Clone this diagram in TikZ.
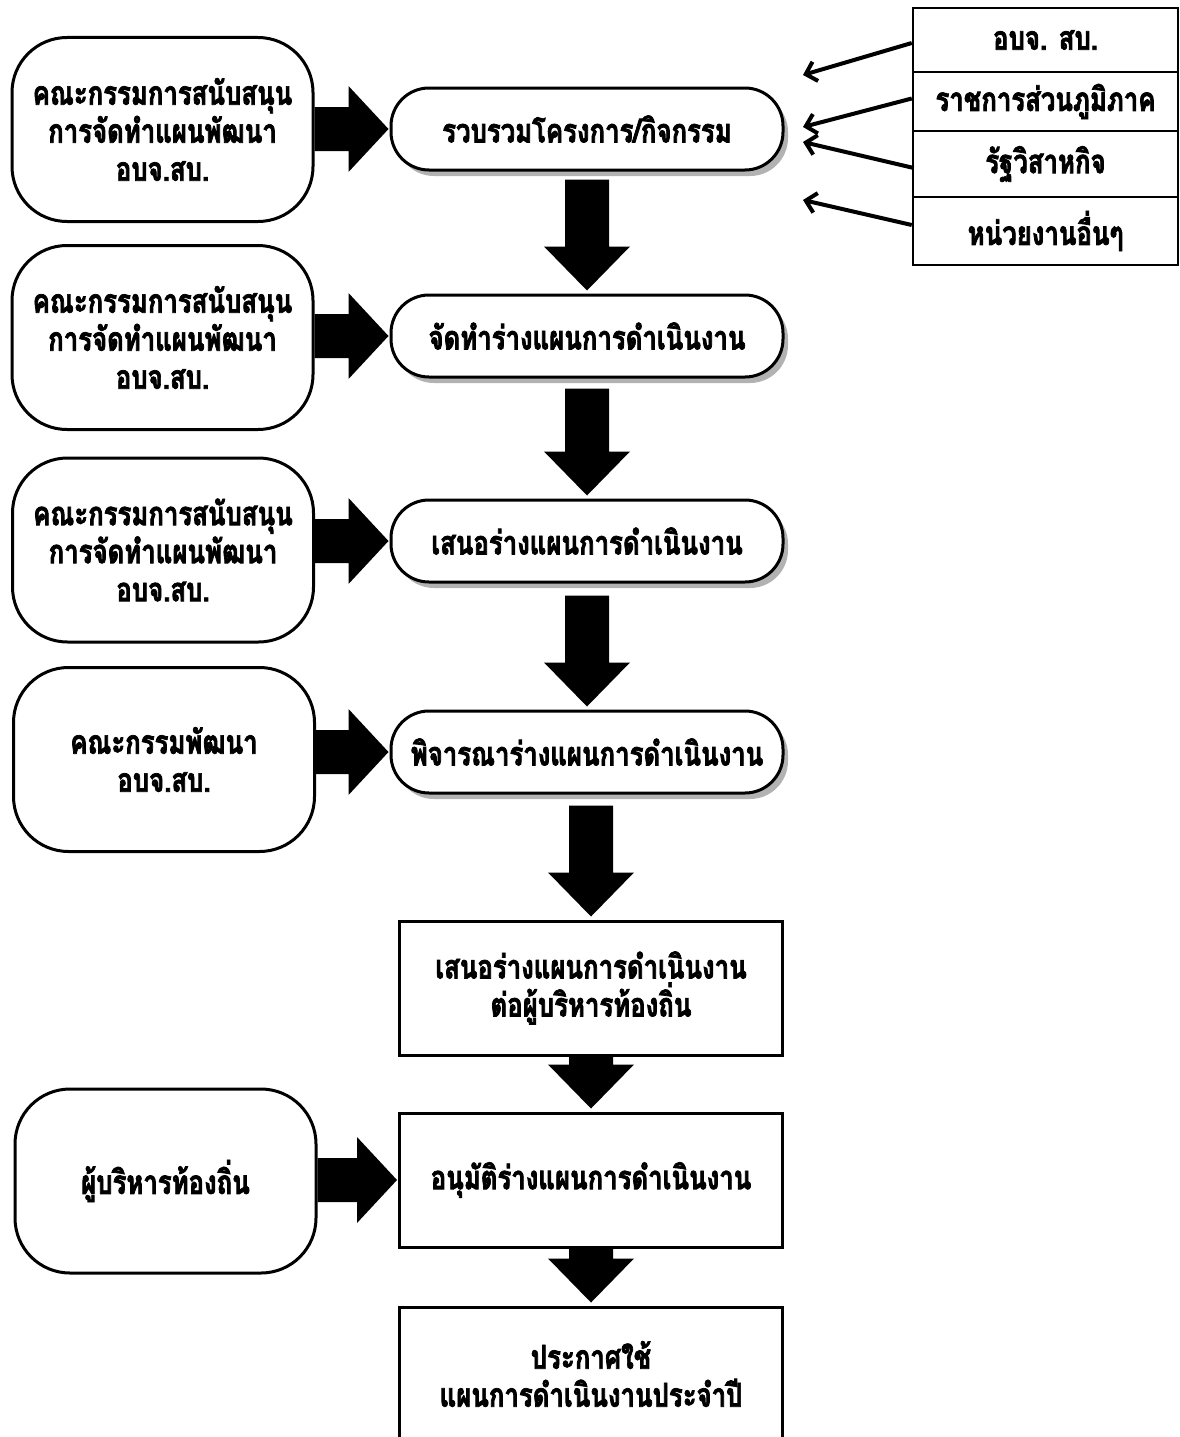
\documentclass[tikz,border=0pt]{standalone}
\usepackage{fontspec}
\setmainfont{Loma}[Script=Thai, FakeStretch=0.78, BoldFeatures={FakeStretch=0.78, FakeBold=2.2}]
\usetikzlibrary{calc,shadows,arrows.meta}
% block arrow pointing down from node #1 to node #2, #3 = gap below #1
\newcommand\blkdown[3]{%
  \fill ($(#1.south -| #2.north)+(-22,#3)$) -- ($(#2.north)+(-22,-47)$) -- ($(#2.north)+(-43,-47)$) -- ($(#2.north)+(0,-3)$) -- ($(#2.north)+(43,-47)$) -- ($(#2.north)+(22,-47)$) -- ($(#1.south -| #2.north)+(22,#3)$) -- cycle;}
% block arrow pointing right from node #1 to node #2
\newcommand\blkright[2]{%
  \fill ($(#1.east |- #2.west)+(0,-22)$) -- ($(#2.west)+(-41,-22)$) -- ($(#2.west)+(-41,-43)$) -- ($(#2.west)+(-1,0)$) -- ($(#2.west)+(-41,43)$) -- ($(#2.west)+(-41,22)$) -- ($(#1.east |- #2.west)+(0,22)$) -- cycle;}
\begin{document}
\begin{tikzpicture}[x=1pt,y=-1pt,
  every node/.style={font=\bfseries\fontsize{33}{38}\selectfont, align=center, inner sep=0pt},
  leftbox/.style={draw, line width=3pt, fill=white, rounded corners=55pt, minimum width=301pt, minimum height=184pt},
  pillbox/.style={draw, line width=3pt, fill=white, rounded corners=38pt, minimum width=392pt, minimum height=82pt,
    drop shadow={shadow xshift=5pt, shadow yshift=-6pt, fill=black!30, opacity=1}},
  rectbox/.style={draw, line width=3pt, fill=white, minimum width=383pt, minimum height=134pt},
  tabcell/.style={draw, line width=2.5pt, minimum width=265pt},
  thinarrow/.style={line width=4pt, -{Straight Barb[length=10pt,width=20pt]}}
]
\useasboundingbox (0,0) rectangle (1180,1437);

% left boxes
\node[leftbox] (L1) at (162.5,129.5) {คณะกรรมการสนับสนุน\\การจัดทำแผนพัฒนา\\อบจ.สบ.};
\node[leftbox] (L2) at (162.5,337.5) {คณะกรรมการสนับสนุน\\การจัดทำแผนพัฒนา\\อบจ.สบ.};
\node[leftbox] (L3) at (163,550) {คณะกรรมการสนับสนุน\\การจัดทำแผนพัฒนา\\อบจ.สบ.};
\node[leftbox] (L4) at (164,759.5) {คณะกรรมพัฒนา\\อบจ.สบ.};
\node[leftbox] (L5) at (165.5,1181) {ผู้บริหารท้องถิ่น};

% middle column
\node[pillbox] (M1) at (587,129) {รวบรวมโครงการ/กิจกรรม};
\node[pillbox] (M2) at (587,336) {จัดทำร่างแผนการดำเนินงาน};
\node[pillbox] (M3) at (587,541) {เสนอร่างแผนการดำเนินงาน};
\node[pillbox] (M4) at (587,752) {พิจารณาร่างแผนการดำเนินงาน};
\node[rectbox] (R1) at (591,988) {เสนอร่างแผนการดำเนินงาน\\ต่อผู้บริหารท้องถิ่น};
\node[rectbox] (R2) at (591,1180) {อนุมัติร่างแผนการดำเนินงาน};
\node[rectbox] (R3) at (591,1374) {ประกาศใช้\\แผนการดำเนินงานประจำปี};

% table top right
\node[tabcell, minimum height=64pt] (T1) at (1045.5,40) {อบจ. สบ.};
\node[tabcell, minimum height=59pt] (T2) at (1045.5,101.5) {ราชการส่วนภูมิภาค};
\node[tabcell, minimum height=66pt] (T3) at (1045.5,164) {รัฐวิสาหกิจ};
\node[tabcell, minimum height=68pt] (T4) at (1045.5,231) {หน่วยงานอื่นๆ};

\coordinate (e1) at (803,75);
\coordinate (e2) at (803,127);
\coordinate (e3) at (803,142);
\coordinate (e4) at (803,200);
\draw[thinarrow] ($(T1.west)+(0,3)$) -- (e1);
\draw[thinarrow] ($(T2.west)+(0,-3)$) -- (e2);
\draw[thinarrow] ($(T3.west)+(2,4)$) -- (e3);
\draw[thinarrow] ($(T4.west)+(0,-6)$) -- (e4);

% block arrows down
\blkdown{M1}{M2}{8}
\blkdown{M2}{M3}{10}
\blkdown{M3}{M4}{12}
\blkdown{M4}{R1}{11}
\blkdown{R1}{R2}{0}
\blkdown{R2}{R3}{0}

% block arrows right
\blkright{L1}{M1}
\blkright{L2}{M2}
\blkright{L3}{M3}
\blkright{L4}{M4}
\blkright{L5}{R2}
\end{tikzpicture}
\end{document}
